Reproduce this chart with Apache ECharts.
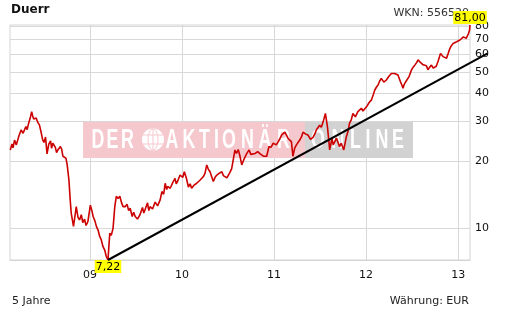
<!DOCTYPE html>
<html><head><meta charset="utf-8">
<script src="https://cdn.jsdelivr.net/npm/echarts@6/dist/echarts.min.js"></script>
<style>html,body{margin:0;padding:0;background:#fff}#c{width:520px;height:310px}</style>
</head><body><div id="c"></div>
<script>
const priceDates = ['2008-02-19','2008-02-26','2008-03-01','2008-03-07','2008-03-14','2008-03-25','2008-04-02','2008-04-10','2008-04-21','2008-04-26','2008-05-02','2008-05-08','2008-05-14','2008-05-18','2008-05-22','2008-06-01','2008-06-07','2008-06-14','2008-06-20','2008-06-27','2008-07-02','2008-07-08','2008-07-14','2008-07-21','2008-07-28','2008-08-01','2008-08-06','2008-08-11','2008-08-16','2008-08-21','2008-08-26','2008-09-05','2008-09-10','2008-09-15','2008-09-22','2008-09-27','2008-10-02','2008-10-09','2008-10-14','2008-10-18','2008-10-27','2008-11-04','2008-11-07','2008-11-14','2008-11-20','2008-11-27','2008-12-03','2008-12-10','2008-12-16','2008-12-23',
'2009-01-02','2009-01-08','2009-01-13','2009-01-20','2009-01-26','2009-02-02','2009-02-08','2009-02-14','2009-02-21','2009-02-28','2009-03-06','2009-03-13','2009-03-20','2009-03-26','2009-04-02','2009-04-09','2009-04-15','2009-04-22','2009-04-29','2009-05-06','2009-05-12','2009-05-20','2009-05-28','2009-06-03','2009-06-09','2009-06-17','2009-06-23','2009-06-29','2009-07-08','2009-07-18','2009-07-28','2009-08-02','2009-08-07','2009-08-17','2009-08-22','2009-08-27','2009-09-06','2009-09-16','2009-09-26','2009-10-06','2009-10-13','2009-10-20','2009-10-26','2009-11-01','2009-11-05','2009-11-15','2009-11-25','2009-12-04','2009-12-09','2009-12-14','2009-12-24',
'2010-01-04','2010-01-10','2010-01-18','2010-01-26','2010-02-02','2010-02-08','2010-02-18','2010-02-28','2010-03-06','2010-03-13','2010-03-20','2010-03-26','2010-04-02','2010-04-09','2010-04-15','2010-04-22','2010-04-28','2010-05-05','2010-05-12','2010-05-19','2010-05-28','2010-06-08','2010-06-14','2010-06-21','2010-06-28','2010-07-04','2010-07-10','2010-07-17','2010-07-24','2010-07-30','2010-08-05','2010-08-12','2010-08-19','2010-08-26','2010-09-05','2010-09-14','2010-09-24','2010-10-01','2010-10-06','2010-10-18','2010-10-28','2010-11-07','2010-11-14','2010-11-20','2010-12-03','2010-12-12','2010-12-20','2010-12-29',
'2011-01-10','2011-01-18','2011-01-25','2011-01-31','2011-02-13','2011-02-20','2011-02-26','2011-03-05','2011-03-11','2011-03-17','2011-03-24','2011-03-31','2011-04-06','2011-04-13','2011-04-20','2011-04-26','2011-05-06','2011-05-16','2011-05-26','2011-06-05','2011-06-12','2011-06-18','2011-06-24','2011-07-01','2011-07-08','2011-07-15','2011-07-24','2011-08-01','2011-08-06','2011-08-10','2011-08-19','2011-08-24','2011-08-30','2011-09-06','2011-09-12','2011-09-18','2011-09-25','2011-10-05','2011-10-15','2011-10-22','2011-10-28','2011-11-04','2011-11-10','2011-11-20','2011-11-30','2011-12-07','2011-12-14','2011-12-20','2011-12-27',
'2012-01-04','2012-01-13','2012-01-23','2012-01-30','2012-02-05','2012-02-12','2012-02-18','2012-02-24','2012-03-02','2012-03-07','2012-03-12','2012-03-22','2012-04-01','2012-04-11','2012-04-17','2012-04-24','2012-05-07','2012-05-17','2012-05-22','2012-05-27','2012-06-01','2012-06-07','2012-06-13','2012-06-20','2012-06-30','2012-07-06','2012-07-13','2012-07-20','2012-07-26','2012-08-02','2012-08-08','2012-08-15','2012-08-21','2012-08-28','2012-09-03','2012-09-10','2012-09-17','2012-09-24','2012-09-30','2012-10-06','2012-10-13','2012-10-23','2012-11-02','2012-11-09','2012-11-16','2012-11-22','2012-11-29','2012-12-05','2012-12-12','2012-12-19','2012-12-26',
'2013-01-02','2013-01-08','2013-01-15','2013-01-22','2013-01-28','2013-02-02','2013-02-06','2013-02-11','2013-02-15','2013-02-17'];
const priceValues = [22.4,23.8,22.9,24.8,23.6,26.0,27.5,26.6,28.5,27.6,29.5,31.0,33.2,31.8,30.8,31.1,29.8,28.9,27.0,24.8,24.2,25.6,21.5,23.8,24.6,22.8,24.0,24.4,23.0,21.8,22.4,23.2,22.6,21.0,21.4,20.6,19.2,16.4,13.4,11.7,10.2,11.8,12.5,11.2,10.9,11.5,10.6,11.0,10.3,10.7,
12.7,12.0,11.3,10.8,10.2,9.8,9.2,8.9,8.3,8.0,7.5,7.22,9.5,9.3,10.0,12.5,13.9,13.6,13.9,13.0,12.5,12.5,12.8,12.0,12.3,11.3,11.8,11.3,11.0,11.5,12.4,11.7,12.1,13.0,12.0,12.5,12.2,13.1,12.6,13.4,14.6,14.2,15.9,14.9,15.4,15.1,16.0,16.7,15.8,16.2,17.3,
16.9,17.9,16.8,15.3,15.8,15.1,15.6,15.9,15.6,16.4,16.1,17.0,17.6,19.2,18.4,17.9,17.1,16.2,16.9,17.3,17.6,17.9,17.2,17.3,16.8,17.0,17.8,18.5,20.5,22.4,21.6,22.5,21.0,19.2,20.5,21.5,22.4,21.4,21.8,21.6,22.0,21.5,21.9,21.0,21.0,23.2,23.0,24.0,
23.6,24.4,25.2,26.1,26.9,26.0,25.2,25.6,24.4,21.0,22.8,23.6,23.2,24.8,25.6,26.9,26.4,26.1,25.0,25.5,26.4,27.5,27.0,28.9,28.3,29.9,32.6,28.5,25.0,22.4,25.2,23.6,23.2,25.3,24.8,23.2,24.0,22.4,25.6,27.2,29.5,30.6,32.6,31.5,33.2,32.8,34.4,33.4,33.9,
35.0,36.4,37.5,39.5,41.5,42.8,43.7,45.4,46.8,47.5,45.0,46.0,47.8,49.2,48.3,49.2,48.4,45.2,43.8,42.3,44.0,45.2,44.6,47.6,51.1,52.4,53.6,55.0,56.6,55.4,54.7,53.8,52.8,53.2,51.1,52.5,53.6,52.0,51.1,53.0,55.6,60.5,58.5,59.3,57.6,60.2,63.6,65.5,67.0,66.3,68.2,
67.6,69.4,68.8,71.7,72.4,70.6,69.3,74.2,76.5,81.0];
const yTickValues = [10,20,30,40,50,60,70,80];
const xTickDates = ['2009-01-01','2010-01-01','2011-01-01','2012-01-01','2013-01-01'];
const xTickLabels = ['09','10','11','12','13'];
const trendDates = ['2009-03-13','2013-04-28'];
const trendValues = [7.22,60.5];
const axisStart = '2008-02-18';
const axisEnd = '2013-02-17';
const titleText = 'Duerr';
const wknText = 'WKN: 556520';
const periodText = '5 Jahre';
const currencyText = 'Währung: EUR';
const watermarkWords = ['DER', 'AKTIONÄR', 'ONLINE'];

const lowIndex = priceValues.indexOf(Math.min(...priceValues));
const lastIndex = priceValues.length - 1;
const fmt = v => v.toFixed(2).replace('.', ',');
const ts = d => new Date(d + 'T00:00:00Z').getTime();
const xTickTs = xTickDates.map(ts);
const font = '"DejaVu Sans", Verdana, sans-serif';

// watermark letter centres (layout only)
const letterX = [[98,112.5,127.5],[172,189,204.5,216.5,229,247.5,265,283.5],[318,338,355.5,368,382,398]];
const pink = '#f5c8cd';
const graphics = [
  {type: 'rect', z: 1, shape: {x: 83, y: 122, width: 222, height: 36}, style: {fill: pink}},
  {type: 'rect', z: 1, shape: {x: 305, y: 122, width: 108, height: 36}, style: {fill: '#d2d2d2'}},
  {type: 'circle', z: 1, shape: {cx: 153, cy: 139.5, r: 11}, style: {fill: '#fff'}},
  {type: 'ellipse', z: 1, shape: {cx: 153, cy: 139.5, rx: 5, ry: 10.5}, style: {fill: 'none', stroke: pink, lineWidth: 1}},
  {type: 'line', z: 1, shape: {x1: 143, y1: 135, x2: 163, y2: 135}, style: {stroke: pink, lineWidth: 1}},
  {type: 'line', z: 1, shape: {x1: 143, y1: 144, x2: 163, y2: 144}, style: {stroke: pink, lineWidth: 1}},
  {type: 'line', z: 1, shape: {x1: 153, y1: 129, x2: 153, y2: 150}, style: {stroke: pink, lineWidth: 1}}
];
watermarkWords.forEach((w, wi) => {
  Array.from(w).forEach((ch, ci) => {
    graphics.push({type: 'text', z: 1, x: letterX[wi][ci], y: 140.5, scaleX: 0.66,
      style: {text: ch, font: 'bold 27px "Liberation Sans", Arial', fill: '#fff', textAlign: 'center', textVerticalAlign: 'middle'}});
  });
});

const chart = echarts.init(document.getElementById('c'), null, {renderer: 'canvas'});
chart.setOption({
  animation: false,
  textStyle: {fontFamily: font},
  title: [
    {text: titleText, left: 11, top: 4, padding: 0, z: 1, textStyle: {fontSize: 12, fontWeight: 'bold', color: '#111', fontFamily: font}},
    {text: wknText, right: 51, top: 8, padding: 0, z: 1, textStyle: {fontSize: 11, fontWeight: 'normal', color: '#333', fontFamily: font}},
    {text: periodText, left: 12, top: 296, padding: 0, z: 1, textStyle: {fontSize: 11, fontWeight: 'normal', color: '#222', fontFamily: font}},
    {text: currencyText, right: 51, top: 296, padding: 0, z: 1, textStyle: {fontSize: 11, fontWeight: 'normal', color: '#222', fontFamily: font}}
  ],
  grid: {left: 10, right: 50, top: 25, bottom: 50, show: true, borderColor: '#d4d4d4', borderWidth: 1, backgroundColor: 'transparent'},
  xAxis: {
    type: 'value', min: ts(axisStart), max: ts(axisEnd), scale: true,
    axisLine: {show: true, lineStyle: {color: '#d4d4d4'}},
    axisTick: {show: false, customValues: xTickTs},
    splitLine: {show: true, lineStyle: {color: '#d8d8d8', width: 1}},
    axisLabel: {customValues: xTickTs, margin: 10, fontSize: 11, color: '#111', fontFamily: font,
      formatter: v => { const i = xTickTs.indexOf(v); return i >= 0 ? xTickLabels[i] : ''; }}
  },
  yAxis: {
    type: 'log', logBase: 10, min: 7.22, max: 81, position: 'right',
    axisLine: {show: false},
    axisTick: {show: false, customValues: yTickValues},
    splitLine: {show: true, lineStyle: {color: '#d8d8d8', width: 1}},
    axisLabel: {customValues: yTickValues, margin: 5, fontSize: 11, color: '#111', fontFamily: font,
      formatter: v => String(Math.round(v))}
  },
  graphic: graphics,
  series: [
    {
      type: 'line', z: 5, showSymbol: false, symbol: 'none',
      data: priceDates.map((d, i) => [ts(d), priceValues[i]]),
      lineStyle: {color: '#cc0000', width: 1.6},
      markPoint: {
        symbol: 'rect', symbolSize: 0, silent: true,
        data: [
          {coord: [ts(priceDates[lowIndex]), priceValues[lowIndex]], label: {position: 'bottom', distance: 0, formatter: fmt(priceValues[lowIndex])}},
          {coord: [ts(priceDates[lastIndex]), priceValues[lastIndex]], label: {position: 'top', distance: 1, formatter: fmt(priceValues[lastIndex])}}
        ],
        label: {show: true, backgroundColor: '#ffff00', color: '#000', fontSize: 11, fontFamily: font, padding: [1, 1, 0, 1], lineHeight: 12}
      }
    },
    {
      type: 'custom', z: 6, clip: false, silent: true,
      data: [[ts(trendDates[0]), trendValues[0], ts(trendDates[1]), trendValues[1]]],
      encode: {x: [0, 2], y: [1, 3]},
      renderItem: (params, api) => {
        const p1 = api.coord([api.value(0), api.value(1)]);
        const p2 = api.coord([api.value(2), api.value(3)]);
        return {type: 'line', shape: {x1: p1[0], y1: p1[1], x2: p2[0], y2: p2[1]}, style: {stroke: '#000', lineWidth: 2}};
      }
    }
  ]
});
</script></body></html>
